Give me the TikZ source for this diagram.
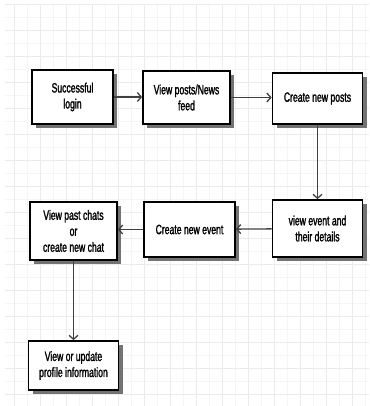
\documentclass[tikz,border=0pt]{standalone}
\usepackage{fontspec}
\setmainfont{Liberation Sans}[FakeStretch=0.64,FakeBold=1.5]
\usepackage{tikz}
\usetikzlibrary{arrows.meta,positioning}

\begin{document}
\begin{tikzpicture}[
    x=1pt, y=-1pt,
    stepbox/.style={rectangle, draw=black, line width=1.7pt, fill=white,
        minimum width=88pt, minimum height=54pt, align=center,
        font=\fontsize{13.5}{16}\selectfont, text=black},
    shadowbox/.style={rectangle, draw=none, fill=black!55, inner sep=0pt,
        minimum width=88pt, minimum height=54pt, xshift=4pt, yshift=-4pt},
    ptr/.style={-{Straight Barb[length=4pt,width=9pt,line width=1.3pt]}, line width=1.3pt, draw=black!75},
    gridminor/.style={draw=black!4, line width=0.5pt},
    gridmajor/.style={draw=black!8, line width=0.7pt}
]
    \useasboundingbox (0,0) rectangle (369,406);
    % background grid
    \begin{scope}
        \clip (5,5) rectangle (369,406);
        \foreach \gx in {1,14,...,370} \draw[gridminor] (\gx,5) -- (\gx,406);
        \foreach \gy in {4,17,...,410} \draw[gridminor] (5,\gy) -- (369,\gy);
        \foreach \gx in {14,40,...,370} \draw[gridmajor] (\gx,5) -- (\gx,406);
        \foreach \gy in {4,30,...,410} \draw[gridmajor] (5,\gy) -- (369,\gy);
    \end{scope}

    % drop shadows
    \foreach \sx/\sy/\sw/\sh in {72.5/97/81/54, 186.5/97.5/87/53, 317.5/98.5/90/51,
            317.5/228.5/90/57, 189.5/229.5/91/55, 73.5/231/87/58, 73.5/365.5/90/49}
        \node[shadowbox, minimum width=\sw pt, minimum height=\sh pt] at (\sx,\sy) {};

    \node[stepbox, minimum width=81pt] (login) at (72.5,97) {Successful\\login};
    \node[stepbox, minimum width=87pt, minimum height=53pt] (feed) at (186.5,97.5) {View posts/News\\feed};
    \node[stepbox, minimum width=90pt, minimum height=51pt] (posts) at (317.5,98.5) {Create new posts};
    \node[stepbox, minimum width=90pt, minimum height=57pt] (details) at (317.5,228.5) {view event and\\their details};
    \node[stepbox, minimum width=91pt, minimum height=55pt] (event) at (189.5,229.5) {Create new event};
    \node[stepbox, minimum width=87pt, minimum height=58pt] (chats) at (73.5,231) {View past chats\\or\\create new chat};
    \node[stepbox, minimum width=90pt, minimum height=49pt] (profile) at (73.5,365.5) {View or update\\profile information};

    \draw[ptr] (login.east) -- (login.east -| feed.west);
    \draw[ptr] (feed.east) -- (feed.east -| posts.west);
    \draw[ptr] (posts) -- (details);
    \draw[ptr] (details) -- (event);
    \draw[ptr] (event) -- (event -| chats.east);
    \draw[ptr] (chats) -- (profile);
\end{tikzpicture}
\end{document}
